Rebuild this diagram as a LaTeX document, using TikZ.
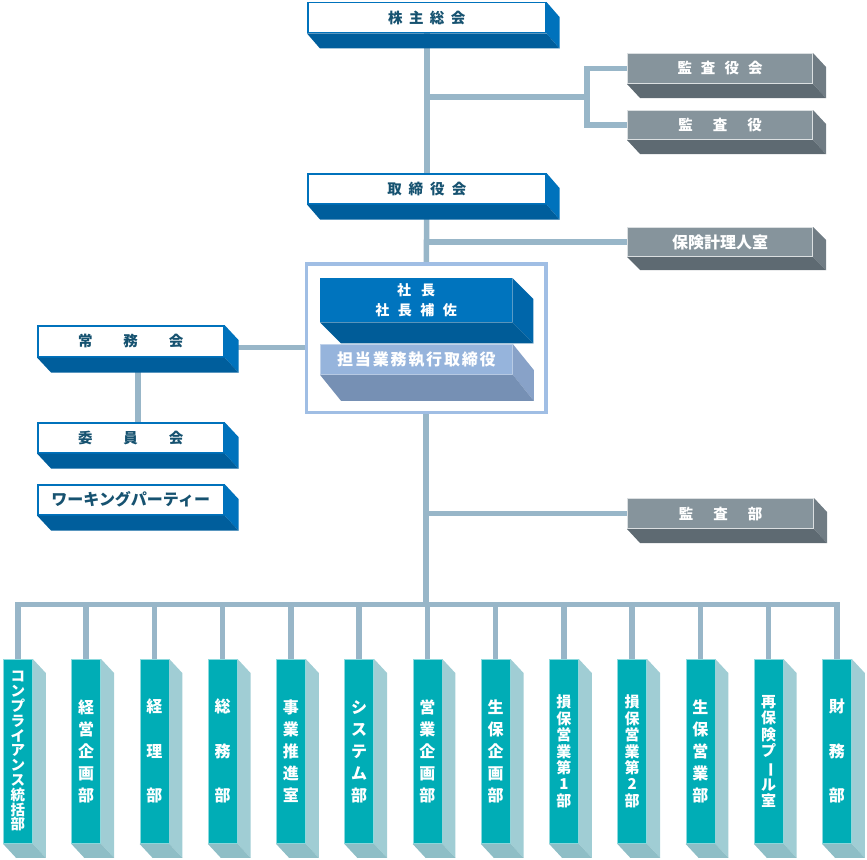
\documentclass[tikz,border=0pt]{standalone}
\usepackage{fontspec}
\setmainfont{Noto Sans CJK JP}
\usepackage{graphicx}
\usetikzlibrary{calc,backgrounds}

\definecolor{connc}{RGB}{152,182,200}
\definecolor{boxblue}{RGB}{0,114,188}
\definecolor{boxbluedark}{RGB}{0,94,156}
\definecolor{textdark}{RGB}{22,82,112}
\definecolor{grayfront}{RGB}{134,148,156}
\definecolor{grayright}{RGB}{112,124,132}
\definecolor{graybottom}{RGB}{94,106,114}
\definecolor{chieffront}{RGB}{0,116,190}
\definecolor{chiefright}{RGB}{0,102,170}
\definecolor{chiefbottom}{RGB}{0,92,152}
\definecolor{execfront}{RGB}{150,180,220}
\definecolor{execright}{RGB}{136,162,200}
\definecolor{execbottom}{RGB}{118,144,180}
\definecolor{framec}{RGB}{160,190,228}
\definecolor{deptfront}{RGB}{0,173,182}
\definecolor{deptright}{RGB}{160,205,212}
\definecolor{deptbottom}{RGB}{142,190,198}

% font size / leading for box texts
\newcommand\vfont[2]{\fontsize{#1}{#2}\selectfont\bfseries}

% side and bottom faces of a box: node, dx, dy, side colour, bottom colour
\newcommand\extrude[5]{%
  \fill[#4] (#1.north east) -- ++(#2,#3) -- ($(#1.south east)+(#2,#3)$) -- (#1.south east) -- cycle;
  \fill[#5] (#1.south west) -- (#1.south east) -- ($(#1.south east)+(#2,#3)$) -- ($(#1.south west)+(#2,#3)$) -- cycle;
}

\ExplSyntaxOn
% characters with a gap between them
\NewDocumentCommand \spaced { m m }
 {
  \bool_set_false:N \l_tmpa_bool
  \tl_map_inline:nn {#2}
   {
    \bool_if:NT \l_tmpa_bool { \hspace{#1} }
    \bool_set_true:N \l_tmpa_bool
    ##1
   }
 }
% characters stacked one per line
\NewDocumentCommand \vstack { m }
 {
  \bool_set_false:N \l_tmpa_bool
  \tl_map_inline:nn {#1}
   {
    \bool_if:NT \l_tmpa_bool { \\ }
    \bool_set_true:N \l_tmpa_bool
    ##1
   }
 }
\ExplSyntaxOff

\tikzset{
  box/.style={anchor=north west, inner sep=0pt},
  bluebox/.style={box, draw=boxblue, line width=1.5pt, fill=white, text=textdark},
  graybox/.style={box, draw=white!70!grayfront, line width=1pt, fill=grayfront, text=white},
  deptbox/.style={box, draw=white!55!deptfront, line width=0.8pt, fill=deptfront,
    text=white, align=center, minimum width=29pt, minimum height=184pt},
  conn/.style={draw=connc, line width=5.5pt},
}

\begin{document}
\begin{tikzpicture}[x=1pt,y=-1pt]
\useasboundingbox (0,0) rectangle (867,859);

% SHAREHOLDERS AND BOARD
\node[bluebox, minimum width=238pt, minimum height=30pt, font=\vfont{14.5}{16}]
  (sousoukai) at (307,2) {\spaced{6.5pt}{株主総会}};
\extrude{sousoukai}{13}{15}{boxblue}{boxbluedark}
\node[bluebox, minimum width=238pt, minimum height=30pt, font=\vfont{14.5}{16}]
  (torishimari) at (307,173) {\spaced{7pt}{取締役会}};
\extrude{torishimari}{13}{15}{boxblue}{boxbluedark}

% AUDIT
\node[graybox, minimum width=185pt, minimum height=30pt, font=\vfont{14.5}{16}]
  (kansayakukai) at (627,53) {\spaced{9pt}{監査役会}};
\extrude{kansayakukai}{13}{14}{grayright}{graybottom}
\node[graybox, minimum width=185pt, minimum height=29pt, font=\vfont{14.5}{16}]
  (kansayaku) at (627,110) {\spaced{20pt}{監査役}};
\extrude{kansayaku}{13}{14}{grayright}{graybottom}
\node[graybox, minimum width=185pt, minimum height=29pt, font=\vfont{16}{18}]
  (actuary) at (627,227) {保険計理人室};
\extrude{actuary}{13}{13}{grayright}{graybottom}
\node[graybox, minimum width=186pt, minimum height=30pt, font=\vfont{14.5}{16}]
  (kansabu) at (627,498) {\spaced{20pt}{監査部}};
\extrude{kansabu}{13}{14}{grayright}{graybottom}

% PRESIDENT AND EXECUTIVE OFFICERS
\node[draw=framec, line width=3.5pt, fill=white, minimum width=239.5pt, minimum height=148.5pt,
  inner sep=0pt] (exec) at (426,338) {};
\node[box, fill=chieffront, text=white, align=center, minimum width=192pt, minimum height=44pt,
  font=\vfont{14}{20}] (shacho) at (320,278) {\spaced{10pt}{社長}\\\spaced{8.5pt}{社長補佐}};
\extrude{shacho}{21}{21}{chiefright}{chiefbottom}
\node[box, fill=execfront, draw=white!40!execfront, line width=0.8pt, text=white,
  minimum width=192pt, minimum height=30pt, font=\vfont{16}{18}]
  (tanto) at (320,344) {\spaced{1.8pt}{担当業務執行取締役}};
\extrude{tanto}{21}{26}{execright}{execbottom}

% MANAGING COMMITTEES
\node[bluebox, minimum width=186pt, minimum height=31pt, font=\vfont{14.5}{16}]
  (jomukai) at (37,325) {\spaced{31pt}{常務会}};
\extrude{jomukai}{14}{15}{boxblue}{boxbluedark}
\node[bluebox, minimum width=186pt, minimum height=30pt, font=\vfont{14.5}{16}]
  (iinkai) at (37,422) {\spaced{31pt}{委員会}};
\extrude{iinkai}{14}{15}{boxblue}{boxbluedark}
\node[bluebox, minimum width=186pt, minimum height=30pt, font=\vfont{16}{18}]
  (working) at (37,484) {ワーキングパーティー};
\extrude{working}{14}{15}{boxblue}{boxbluedark}

% DEPARTMENTS
\node[deptbox, font=\vfont{14.5}{14.8}] (d1) at (3,659) {\vstack{コンプライアンス統括部}};
\node[deptbox, font=\vfont{16}{22}] (d2) at (71.25,659) {\vstack{経営企画部}};
\node[deptbox, font=\vfont{16}{44.5}] (d3) at (139.5,659) {\vstack{経理部}};
\node[deptbox, font=\vfont{16}{44.5}] (d4) at (207.75,659) {\vstack{総務部}};
\node[deptbox, font=\vfont{16}{22}] (d5) at (276,659) {\vstack{事業推進室}};
\node[deptbox, font=\vfont{16}{22}] (d6) at (344.25,659) {\vstack{システム部}};
\node[deptbox, font=\vfont{16}{22}] (d7) at (412.5,659) {\vstack{営業企画部}};
\node[deptbox, font=\vfont{16}{22}] (d8) at (480.75,659) {\vstack{生保企画部}};
\node[deptbox, font=\vfont{15}{16.4}] (d9) at (549,659) {\vstack{損保営業第1部}};
\node[deptbox, font=\vfont{15}{16.4}] (d10) at (617.25,659) {\vstack{損保営業第2部}};
\node[deptbox, font=\vfont{16}{22}] (d11) at (685.5,659) {\vstack{生保営業部}};
\node[deptbox, font=\vfont{15}{16.6}] (d12) at (753.75,659)
  {\vstack{再保険プ{\rotatebox[origin=c]{-90}{ー}}ル室}};
\node[deptbox, font=\vfont{16}{44.5}] (d13) at (822,659) {\vstack{財務部}};
\foreach \i in {1,...,13}
  {\extrude{d\i}{13}{14}{deptright}{deptbottom}}

% CONNECTORS
\coordinate (kbr) at (587,97);
\coordinate (jm) at ($(jomukai.center)+(0,6)$);
\coordinate (bus) at (426,604.5);
\begin{scope}[on background layer]
\draw[conn] (sousoukai) -- (torishimari);
\draw[conn] (kbr) -- (kbr -| sousoukai);
\draw[conn] (kansayakukai.west) -| (kbr) |- (kansayaku.west);
\draw[conn] (torishimari) -- (exec);
\draw[conn] (actuary.west) -- (actuary.west -| torishimari);
\draw[conn] (jm) -- (jm -| exec);
\draw[conn] ([xshift=7pt]jomukai.center) -- ([xshift=7pt]iinkai.center);
\draw[conn] (kansabu.west) -- (kansabu.west -| exec);
\draw[conn] (exec) -- (bus);
\draw[conn] (d1) |- (bus) -| (d13);
\foreach \i in {2,...,12}
  \draw[conn] (d\i) -- (d\i |- bus);
\end{scope}

\end{tikzpicture}
\end{document}
